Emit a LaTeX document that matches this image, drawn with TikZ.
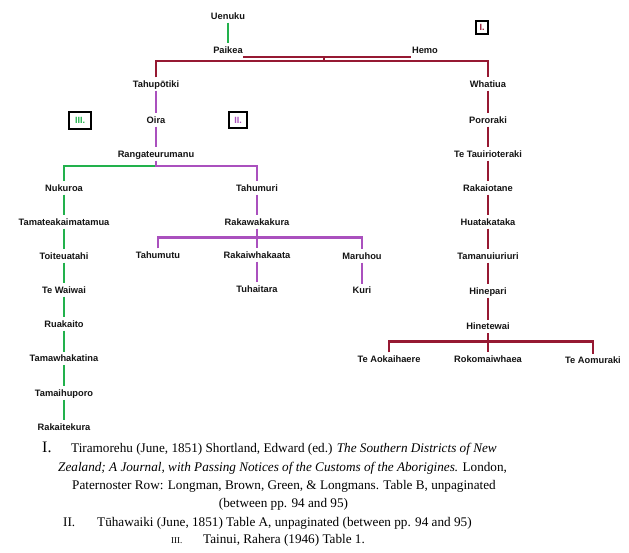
\documentclass[tikz,border=0pt]{standalone}
\usepackage{fontspec}
\setmainfont{Liberation Serif}
\newfontfamily\lbfamily{Liberation Sans}
\definecolor{rd}{RGB}{150,25,50}
\definecolor{gr}{RGB}{34,177,76}
\definecolor{pu}{RGB}{170,80,190}
\begin{document}
\begin{tikzpicture}[x=1pt,y=-1pt,
  lbl/.style={font=\lbfamily\bfseries\fontsize{9.3}{11}\selectfont, text=black!92, inner xsep=0.5pt, inner ysep=3.25pt, text height=6.5pt, text depth=0pt},
  rl/.style={draw=rd, line width=2.2pt},
  gl/.style={draw=gr, line width=2.2pt},
  pl/.style={draw=pu, line width=2.2pt},
  tag/.style={draw=black, line width=2pt, font=\lbfamily\bfseries\fontsize{9}{10}\selectfont, inner sep=0pt},
  ref/.style={anchor=base west, inner sep=0pt, font=\fontsize{13.2}{16}\selectfont, text=black}
]
\useasboundingbox (0,0) rectangle (629,553);
\fill[white] (0,0) rectangle (629,553);

% labels
\node[lbl] (uenuku) at (228,16) {Uenuku};
\node[lbl] (paikea) at (228,50) {Paikea};
\node[lbl] (hemo) at (425,50) {Hemo};
\node[lbl] (tahupotiki) at (156,84) {Tahupōtiki};
\node[lbl] (whatiua) at (488,84) {Whatiua};
\node[lbl] (oira) at (156,120) {Oira};
\node[lbl] (rang) at (156,154) {Rangateurumanu};
\node[lbl] (nukuroa) at (64,188) {Nukuroa};
\node[lbl] (tahumuri) at (257,188) {Tahumuri};
\node[lbl] (tamatea) at (64,222) {Tamateakaimatamua};
\node[lbl] (rakawaka) at (257,222) {Rakawakakura};
\node[lbl] (toiteu) at (64,256) {Toiteuatahi};
\node[lbl] (tewaiwai) at (64,290) {Te Waiwai};
\node[lbl] (ruakaito) at (64,324) {Ruakaito};
\node[lbl] (tamawha) at (64,358.5) {Tamawhakatina};
\node[lbl] (tamaihu) at (64,393) {Tamaihuporo};
\node[lbl] (rakaitek) at (64,427) {Rakaitekura};
\node[lbl] (tahumutu) at (158,255) {Tahumutu};
\node[lbl] (rakaiwha) at (257,255) {Rakaiwhakaata};
\node[lbl] (maruhou) at (362,256) {Maruhou};
\node[lbl] (tuhaitara) at (257,289) {Tuhaitara};
\node[lbl] (kuri) at (362,290.5) {Kuri};
\node[lbl] (pororaki) at (488,120) {Pororaki};
\node[lbl] (tetaui) at (488,154) {Te Tauirioteraki};
\node[lbl] (rakaiotane) at (488,188) {Rakaiotane};
\node[lbl] (huata) at (488,222) {Huatakataka};
\node[lbl] (tamanui) at (488,256) {Tamanuiuriuri};
\node[lbl] (hinepari) at (488,291) {Hinepari};
\node[lbl] (hinetewai) at (488,326.5) {Hinetewai};
\node[lbl] (teaokai) at (389,359) {Te Aokaihaere};
\node[lbl] (rokomai) at (488,359) {Rokomaiwhaea};
\node[lbl] (teaomur) at (593,360.5) {Te Aomuraki};

% tags
\node[tag, minimum width=12pt, minimum height=13pt, text=rd] (tagI) at (482,27.5) {I.};
\node[tag, minimum width=18pt, minimum height=16pt, text=pu] (tagII) at (238,120) {II.};
\node[tag, minimum width=22pt, minimum height=17pt, text=gr] (tagIII) at (80,120.5) {III.};

% branch points
\coordinate (mar) at (324,56.5);
\coordinate (fork) at (324,61);
\coordinate (f2) at (156,166);
\coordinate (f3) at (257,237.5);
\coordinate (f4) at (488,341.5);

% connectors
\draw[gl] (uenuku) -- (paikea);
\draw[rl] (paikea.south east) -- (hemo.south west);
\draw[rl] (mar) -- (fork);
\draw[rl] (tahupotiki.north) |- (fork) -| (whatiua.north);

\draw[pl] (tahupotiki) -- (oira);
\draw[pl] (oira) -- (rang);
\draw[gl] (f2) -| (nukuroa.north);
\draw[pl] (rang) -- (f2) -| (tahumuri.north);

\draw[gl] (nukuroa) -- (tamatea);
\draw[gl] (tamatea) -- (toiteu);
\draw[gl] (toiteu) -- (tewaiwai);
\draw[gl] (tewaiwai) -- (ruakaito);
\draw[gl] (ruakaito) -- (tamawha);
\draw[gl] (tamawha) -- (tamaihu);
\draw[gl] (tamaihu) -- (rakaitek);

\draw[pl] (tahumuri) -- (rakawaka);
\draw[pl] (rakawaka) -- (rakaiwha);
\draw[pl] (tahumutu.north) |- (f3) -| (maruhou.north);
\draw[pl] (rakaiwha) -- (tuhaitara);
\draw[pl] (maruhou) -- (kuri);

\draw[rl] (whatiua) -- (pororaki);
\draw[rl] (pororaki) -- (tetaui);
\draw[rl] (tetaui) -- (rakaiotane);
\draw[rl] (rakaiotane) -- (huata);
\draw[rl] (huata) -- (tamanui);
\draw[rl] (tamanui) -- (hinepari);
\draw[rl] (hinepari) -- (hinetewai);
\draw[rl] (hinetewai) -- (rokomai);
\draw[rl] (teaokai.north) |- (f4) -| (teaomur.north);

% references
\node[ref, font=\fontsize{16}{18}\selectfont] (nI) at (42,452.5) {I.};
\node[ref] (r1) at (71,452.5) {Tiramorehu (June, 1851) Shortland, Edward (ed.) \textit{The Southern Districts of New}};
\node[ref] (r2) at (58,471) {\textit{Zealand; A Journal, with Passing Notices of the Customs of the Aborigines.} London,};
\node[ref] (r3) at (72,489.3) {Paternoster Row: Longman, Brown, Green, \& Longmans. Table B, unpaginated};
\node[ref, anchor=base] (r4) at (283.5,507) {(between pp. 94 and 95)};
\node[ref] (nII) at (63,526) {II.};
\node[ref] (r5) at (97,526) {Tūhawaiki (June, 1851) Table A, unpaginated (between pp. 94 and 95)};
\node[ref, font=\fontsize{9}{10}\selectfont] (nIII) at (171,543) {III.};
\node[ref] (r6) at (203,543) {Tainui, Rahera (1946) Table 1.};
\end{tikzpicture}
\end{document}
